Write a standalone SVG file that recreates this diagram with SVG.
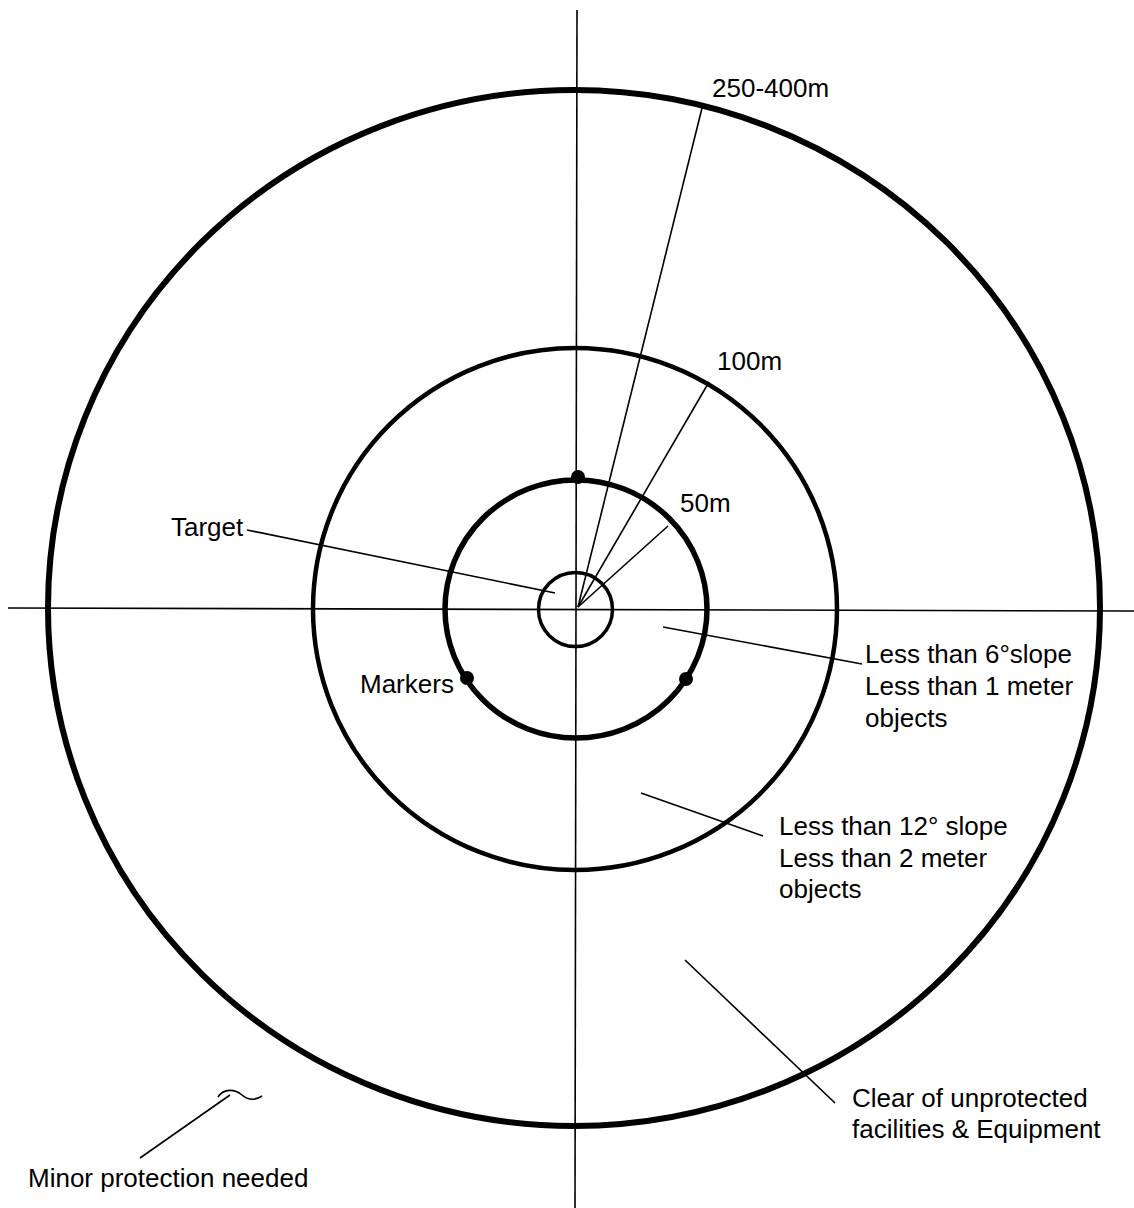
<svg xmlns="http://www.w3.org/2000/svg" width="1134" height="1208" viewBox="0 0 1134 1208">
<style>
text{font-family:"Liberation Sans",Arial,sans-serif;font-size:26px;fill:#000}
.ring{fill:none;stroke:#000}
.thin{stroke:#000;stroke-width:1.6;fill:none}
</style>
<rect width="1134" height="1208" fill="#fff"/>
<g id="axes">
<line class="thin" x1="577" y1="10" x2="575" y2="1208" stroke-width="1.8"/>
<line class="thin" x1="8" y1="608" x2="1134" y2="611" stroke-width="1.8"/>
</g>
<g id="zone-outer"><ellipse class="ring" cx="574" cy="608" rx="526" ry="518" stroke-width="6"/></g>
<g id="zone-middle"><ellipse class="ring" cx="575" cy="609" rx="262" ry="261" stroke-width="4.5"/></g>
<g id="zone-inner"><ellipse class="ring" cx="576" cy="609" rx="131" ry="129" stroke-width="5.5"/></g>
<g id="target"><ellipse class="ring" cx="575.5" cy="609.5" rx="37" ry="37" stroke-width="3.5"/></g>
<g id="markers">
<circle cx="578" cy="477" r="7"/>
<circle cx="467" cy="678" r="7"/>
<circle cx="686" cy="679" r="7"/>
</g>
<g id="connectors">
<line class="thin" x1="578" y1="607" x2="702" y2="108"/>
<line class="thin" x1="578" y1="607" x2="709" y2="382"/>
<line class="thin" x1="578" y1="607" x2="668" y2="526"/>
<line class="thin" x1="247" y1="530" x2="555" y2="593"/>
<line class="thin" x1="663" y1="627" x2="862" y2="664"/>
<line class="thin" x1="641" y1="793" x2="763" y2="836"/>
<line class="thin" x1="685" y1="960" x2="835" y2="1103"/>
<line class="thin" x1="140" y1="1158" x2="230" y2="1095"/>
<path class="thin" d="M218 1097 C224 1088 235 1089 242 1095 C249 1101 256 1100 262 1096" stroke-width="2"/>
</g>
<g id="labels">
<text x="712" y="97">250-400m</text>
<text x="717" y="370">100m</text>
<text x="680" y="512">50m</text>
<text x="171" y="536">Target</text>
<text x="360" y="693">Markers</text>
<text x="865" y="663">Less than 6°slope</text>
<text x="865" y="695">Less than 1 meter</text>
<text x="865" y="727">objects</text>
<text x="779" y="835">Less than 12° slope</text>
<text x="779" y="867">Less than 2 meter</text>
<text x="779" y="898">objects</text>
<text x="852" y="1107">Clear of unprotected</text>
<text x="852" y="1138">facilities &amp; Equipment</text>
<text x="28" y="1187">Minor protection needed</text>
</g>
</svg>
